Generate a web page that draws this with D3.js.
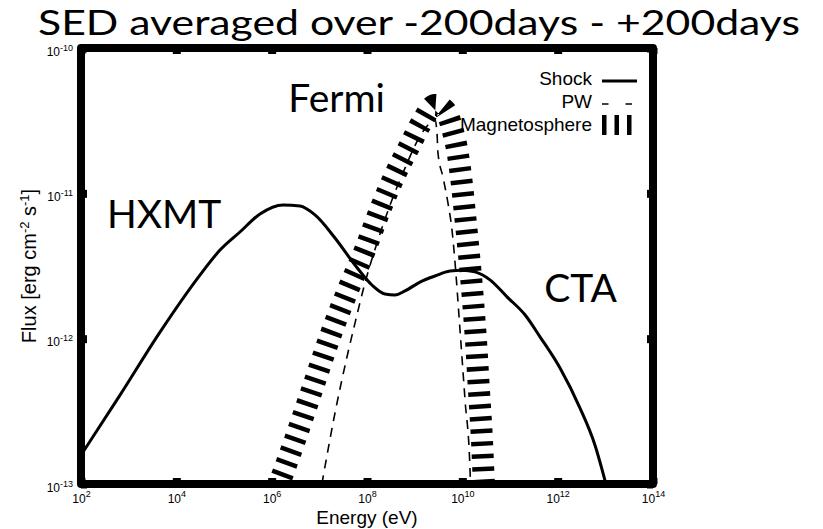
<!DOCTYPE html>
<html><head><meta charset="utf-8">
<script src="https://cdn.jsdelivr.net/npm/d3@7"></script>
<style>
body{margin:0;background:#fff;}
svg{display:block;}
</style></head>
<body>
<svg id="c" width="823" height="529"></svg>
<script>
// ---------- data ----------
const title = "SED averaged over -200days - +200days";
const xTicks = [1e2, 1e4, 1e6, 1e8, 1e10, 1e12, 1e14];
const xTickExp = ["2", "4", "6", "8", "10", "12", "14"];
const yTicks = [1e-13, 1e-12, 1e-11, 1e-10];
const yTickExp = ["-13", "-12", "-11", "-10"];

const shockE = [100, 658, 4540, 3.13e4, 8.24e4, 2.16e5, 5.69e5, 1.73e6, 3.93e6, 8.11e6, 2.13e7, 5.60e7, 1.27e8, 2.38e8, 3.86e8, 6.27e8, 1.29e9, 2.67e9, 5.51e9, 9.84e9, 1.84e10, 3.80e10, 8.65e10, 2.06e11, 4.26e11, 1.12e12, 2.94e12, 6.07e12, 1.03e13];
const shockF = [1.58e-13, 4.09e-13, 1.11e-12, 2.74e-12, 4.07e-12, 5.42e-12, 7.21e-12, 8.32e-12, 8.18e-12, 7.10e-12, 4.93e-12, 3.21e-12, 2.34e-12, 2.03e-12, 2.00e-12, 2.13e-12, 2.45e-12, 2.70e-12, 2.92e-12, 2.96e-12, 2.88e-12, 2.54e-12, 1.94e-12, 1.46e-12, 1.03e-12, 6.28e-13, 3.33e-13, 1.85e-13, 1.0e-13];

const pwE = [9.84e6, 1.19e7, 2.13e7, 3.80e7, 5.60e7, 9.08e7, 1.70e8, 3.34e8, 6.27e8, 1.17e9, 1.90e9, 2.67e9, 2.94e9, 3.08e9, 3.93e9, 5.00e9, 6.07e9, 7.01e9, 8.93e9, 1.14e10, 1.45e10, 1.52e10];
const pwF = [7.76e-14, 1.10e-13, 3.08e-13, 7.48e-13, 1.28e-12, 2.42e-12, 4.78e-12, 9.00e-12, 1.49e-11, 2.33e-11, 2.95e-11, 3.20e-11, 2.61e-11, 1.90e-11, 1.29e-11, 8.57e-12, 5.60e-12, 3.37e-12, 1.15e-12, 3.78e-13, 1.25e-13, 7.76e-14];

const magE = [1.07e6, 3.08e6, 7.01e6, 1.67e7, 3.99e7, 9.08e7, 1.87e8, 3.86e8, 7.98e8, 1.42e9, 2.67e9, 4.33e9, 6.07e9, 8.11e9, 9.84e9, 1.14e10, 1.38e10, 1.67e10, 1.93e10, 2.23e10, 2.58e10, 2.84e10, 2.99e10];
const magF = [7.76e-14, 2.01e-13, 4.44e-13, 1.03e-12, 2.16e-12, 4.07e-12, 7.67e-12, 1.34e-11, 2.15e-11, 3.10e-11, 4.06e-11, 3.74e-11, 2.82e-11, 1.84e-11, 1.14e-11, 7.10e-12, 3.77e-12, 1.85e-12, 9.79e-13, 4.44e-13, 2.01e-13, 1.0e-13, 7.76e-14];

const legendNames = ["Shock", "PW", "Magnetosphere"];
const annotations = [
  {text: "HXMT", E: 351, F: 5.77e-12, anchor: "start"},
  {text: "Fermi", E: 2.38e8, F: 3.65e-11, anchor: "end"},
  {text: "CTA", E: 5.2e11, F: 1.78e-12, anchor: "start"}
];

// ---------- layout ----------
const L = 81, R = 653, T = 48, B = 484;
const svg = d3.select("#c");
const x = d3.scaleLog().domain([1e2, 1e14]).range([L, R]);
const y = d3.scaleLog().domain([1e-13, 1e-10]).range([B, T]);
const sans = "'Liberation Sans', Arial, Helvetica, sans-serif";
const big = "Lato, 'Open Sans', sans-serif";

// title
svg.append("text").attr("x", 38).attr("y", 35)
  .attr("font-family", big).attr("font-size", 34)
  .attr("textLength", 762).attr("lengthAdjust", "spacingAndGlyphs")
  .text(title);

// clip
svg.append("clipPath").attr("id", "clip").append("rect")
  .attr("x", L).attr("y", T).attr("width", R - L).attr("height", B - T);
const plot = svg.append("g").attr("clip-path", "url(#clip)");

const line = d3.line().x(d => x(d[0])).y(d => y(d[1])).curve(d3.curveMonotoneX);

plot.append("path").datum(magE.map((e, i) => [e, magF[i]]))
  .attr("d", line).attr("fill", "none").attr("stroke", "#000")
  .attr("stroke-width", 22).attr("stroke-dasharray", "4.5,8");
plot.append("path").datum(pwE.map((e, i) => [e, pwF[i]]))
  .attr("d", line).attr("fill", "none").attr("stroke", "#000")
  .attr("stroke-width", 1.6).attr("stroke-dasharray", "9,7");
plot.append("path").datum(shockE.map((e, i) => [e, shockF[i]]))
  .attr("d", line).attr("fill", "none").attr("stroke", "#000")
  .attr("stroke-width", 3).attr("stroke-linejoin", "round");

// axes (ticks inward, thick)
function styleTicks(g) {
  g.select(".domain").remove();
  g.selectAll(".tick line").attr("stroke", "#000").attr("stroke-width", 8);
}
const gB = svg.append("g").attr("transform", `translate(0,${B})`)
  .call(d3.axisBottom(x).tickValues(xTicks).tickSize(-6).tickFormat(() => ""));
styleTicks(gB);
gB.selectAll(".tick text").each(function(d, i) {
  const t = d3.select(this);
  t.text(null).attr("y", 19).attr("dy", null).attr("fill", "#000")
    .attr("font-family", sans).attr("font-size", 12).attr("text-anchor", "middle");
  t.append("tspan").text("10");
  t.append("tspan").attr("dy", -6).attr("font-size", 9).text(xTickExp[i]);
});
const gT = svg.append("g").attr("transform", `translate(0,${T})`)
  .call(d3.axisTop(x).tickValues(xTicks).tickSize(-6).tickFormat(() => ""));
styleTicks(gT);
const gL = svg.append("g").attr("transform", `translate(${L},0)`)
  .call(d3.axisLeft(y).tickValues(yTicks).tickSize(-6).tickFormat(() => ""));
styleTicks(gL);
gL.selectAll(".tick text").each(function(d, i) {
  const t = d3.select(this);
  t.text(null).attr("x", -8).attr("y", 7).attr("dy", null).attr("fill", "#000")
    .attr("font-family", sans).attr("font-size", 12).attr("text-anchor", "end");
  t.append("tspan").text("10");
  t.append("tspan").attr("dy", -5).attr("font-size", 9).text(yTickExp[i]);
});
const gR = svg.append("g").attr("transform", `translate(${R},0)`)
  .call(d3.axisRight(y).tickValues(yTicks).tickSize(-6).tickFormat(() => ""));
styleTicks(gR);

// frame
svg.append("rect").attr("x", L).attr("y", T).attr("width", R - L).attr("height", B - T)
  .attr("fill", "none").attr("stroke", "#000").attr("stroke-width", 8)
  .attr("stroke-linejoin", "round");

// axis titles
svg.append("text").attr("x", (L + R) / 2).attr("y", 524).attr("text-anchor", "middle")
  .attr("font-family", sans).attr("font-size", 19).text("Energy (eV)");
const yl = svg.append("text").attr("transform", `translate(36,${(T + B) / 2}) rotate(-90)`)
  .attr("text-anchor", "middle").attr("font-family", sans).attr("font-size", 20);
yl.append("tspan").text("Flux [erg cm");
yl.append("tspan").attr("dy", -7).attr("font-size", 13).text("-2");
yl.append("tspan").attr("dy", 7).text(" s");
yl.append("tspan").attr("dy", -7).attr("font-size", 13).text("-1");
yl.append("tspan").attr("dy", 7).text("]");

// annotations
annotations.forEach(a => {
  svg.append("text").attr("x", x(a.E)).attr("y", y(a.F))
    .attr("text-anchor", a.anchor).attr("font-family", big).attr("font-size", 39)
    .text(a.text);
});

// legend
const legX = 592, legY0 = 85, legDy = 23, lx1 = 602, lx2 = 637;
legendNames.forEach((n, i) => {
  svg.append("text").attr("x", legX).attr("y", legY0 + i * legDy).attr("text-anchor", "end")
    .attr("font-family", sans).attr("font-size", 19).text(n);
});
const lg = svg.append("g");
lg.append("line").attr("x1", lx1).attr("x2", lx2).attr("y1", legY0 - 4).attr("y2", legY0 - 4)
  .attr("stroke", "#000").attr("stroke-width", 3);
lg.append("line").attr("x1", lx1).attr("x2", lx2).attr("y1", legY0 + legDy - 4).attr("y2", legY0 + legDy - 4)
  .attr("stroke", "#000").attr("stroke-width", 1.6).attr("stroke-dasharray", "6.5,17");
lg.append("line").attr("x1", lx1).attr("x2", lx2).attr("y1", legY0 + 2 * legDy - 6).attr("y2", legY0 + 2 * legDy - 6)
  .attr("stroke", "#000").attr("stroke-width", 20).attr("stroke-dasharray", "4.5,8");
</script>
</body></html>
